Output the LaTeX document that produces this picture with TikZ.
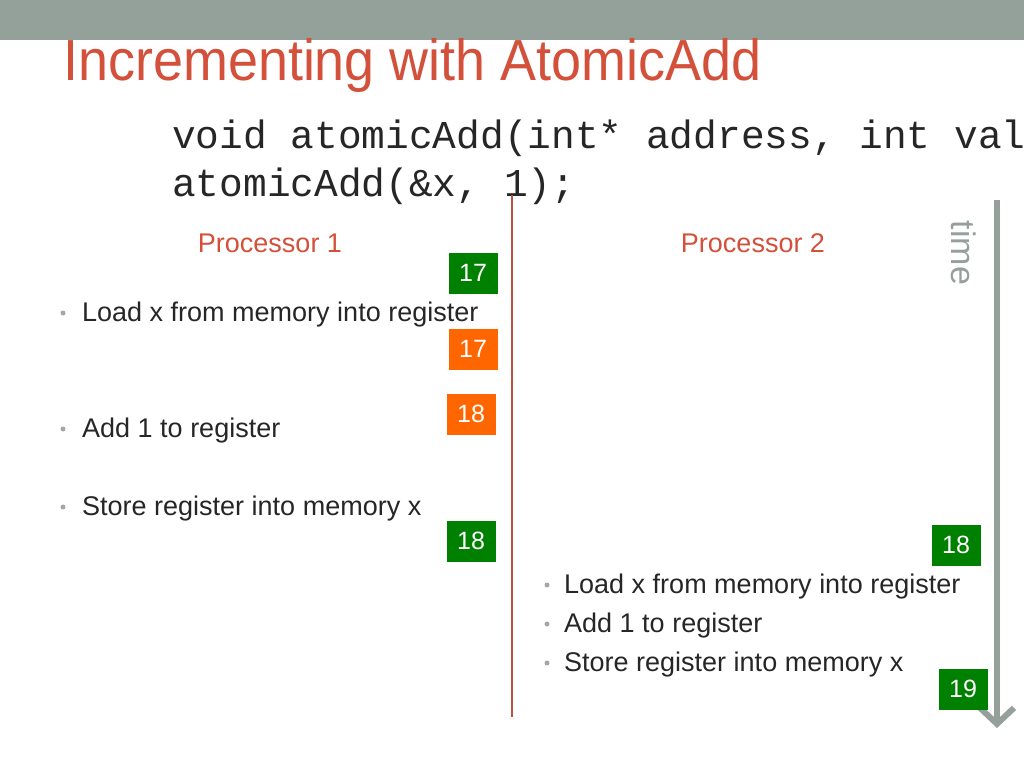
\documentclass[tikz,border=0pt]{standalone}
\usepackage{fontspec}
\setmainfont{Liberation Sans}
\setmonofont{Liberation Mono}
\newfontfamily\titlefont[FakeStretch=0.93]{Liberation Sans}
\usetikzlibrary{arrows.meta}
\definecolor{bargray}{RGB}{147,161,154}
\definecolor{titlered}{RGB}{211,80,58}
\definecolor{linered}{RGB}{192,80,70}
\definecolor{txt}{RGB}{38,38,38}
\definecolor{boxgreen}{RGB}{0,128,0}
\definecolor{boxorange}{RGB}{255,102,0}
\definecolor{timegray}{RGB}{150,160,155}
\tikzset{
  item/.style={anchor=base west, inner sep=0pt, text=txt, font=\fontsize{27}{32}\selectfont},
  proc/.style={anchor=base, inner sep=0pt, text=titlered, font=\fontsize{27}{32}\selectfont},
  code/.style={anchor=base west, inner sep=0pt, text=txt, font=\ttfamily\fontsize{39.5}{44}\selectfont},
  valbox/.style={minimum width=49pt, minimum height=41pt, inner sep=0pt, text=white, font=\fontsize{25}{28}\selectfont},
  gbox/.style={valbox, fill=boxgreen},
  obox/.style={valbox, fill=boxorange},
  dot/.style={circle, fill=gray!70, inner sep=0pt, minimum size=5pt},
}
\begin{document}
\begin{tikzpicture}[x=1pt,y=-1pt]
\useasboundingbox (0,0) rectangle (1024,768);
\clip (0,0) rectangle (1024,768);
\fill[bargray] (0,0) rectangle (1024,40);
\node[anchor=base west, inner sep=0pt, text=titlered, font=\titlefont\fontsize{58}{64}\selectfont] (title) at (63,80) {Incrementing with AtomicAdd};
\node[code] (code1) at (172,148) {void atomicAdd(int* address, int val};
\node[code] (code2) at (172,196) {atomicAdd(\&x, 1);};
% processor divider
\coordinate (ltop) at (512,195);
\coordinate (lbot) at (512,717);
\draw[linered, line width=2.5pt] (ltop) -- (lbot);
\node[proc] (p1) at (270,252) {Processor 1};
\node[proc] (p2) at (753,252) {Processor 2};
% time arrow
\coordinate (ttop) at (997,200);
\coordinate (tbot) at (997,728);
\draw[timegray, line width=6pt, -{Straight Barb[length=16pt, width=34pt, line width=6pt]}] (ttop) -- (tbot);
\node[rotate=-90, anchor=base, inner sep=0pt, text=timegray, font=\fontsize{34}{38}\selectfont] (time) at (951,253) {time};
% left list
\node[dot] (d1) at (63,313) {};
\node[item] (i1) at (82,321) {Load x from memory into register};
\node[dot] (d2) at (63,429) {};
\node[item] (i2) at (82,437) {Add 1 to register};
\node[dot] (d3) at (63,507) {};
\node[item] (i3) at (82,515) {Store register into memory x};
% right list
\node[dot] (d4) at (547,585) {};
\node[item] (i4) at (564,593) {Load x from memory into register};
\node[dot] (d5) at (547,624) {};
\node[item] (i5) at (564,632) {Add 1 to register};
\node[dot] (d6) at (547,663) {};
\node[item] (i6) at (564,671) {Store register into memory x};
% value boxes
\node[gbox] (b1) at (473,273) {17};
\node[obox] (b2) at (473,349) {17};
\node[obox] (b3) at (471,414) {18};
\node[gbox] (b4) at (471,541) {18};
\node[gbox] (b5) at (956,545) {18};
\node[gbox] (b6) at (963,689) {19};
\end{tikzpicture}
\end{document}
